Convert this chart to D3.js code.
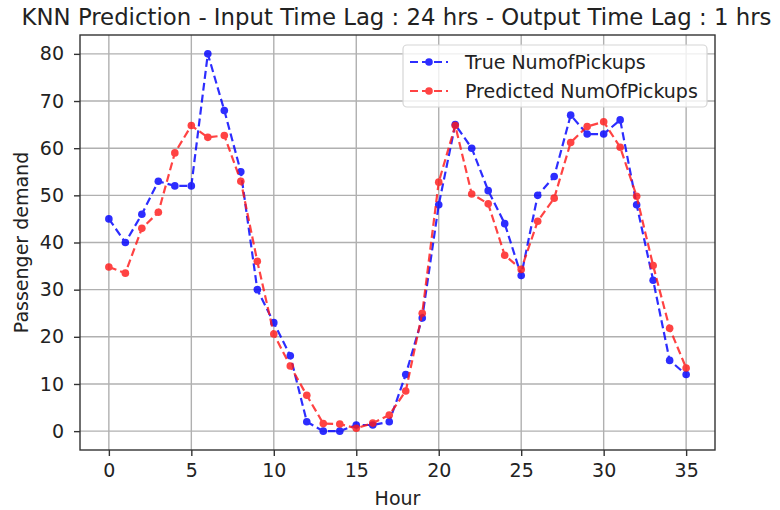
<!DOCTYPE html>
<html>
<head>
<meta charset="utf-8">
<script src="https://cdn.jsdelivr.net/npm/d3@7"></script>
<style>
  html, body { margin: 0; padding: 0; background: #fff; }
  svg { display: block; font-family: "DejaVu Sans", sans-serif; }
</style>
</head>
<body>
<svg id="chart" width="780" height="510"></svg>
<script>
// Hourly pickups: observed vs. KNN forecast
const hours = d3.range(0, 36);
const trueCounts = [45, 40, 46, 53, 52, 52, 80, 68, 55, 30, 23, 16, 2, 0, 0, 1.3, 1.3, 2, 12, 24,
                    48, 65, 60, 51, 44, 33, 50, 54, 67, 63, 63, 66, 48, 32, 15, 12];
const predictedCounts = [34.8, 33.5, 43, 46.4, 59, 64.8, 62.3, 62.7, 53, 36, 20.6, 13.8, 7.6, 1.6, 1.5, 0.6, 1.7, 3.4, 8.5, 25,
                         52.8, 64.8, 50.3, 48.2, 37.3, 34.3, 44.5, 49.4, 61.2, 64.6, 65.6, 60.2, 49.8, 35.1, 21.8, 13.4];
const xTicks = [0, 5, 10, 15, 20, 25, 30, 35];
const yTicks = [0, 10, 20, 30, 40, 50, 60, 70, 80];
const seriesNames = ["True NumofPickups", "Predicted NumOfPickups"];
const titleText = "KNN Prediction - Input Time Lag : 24 hrs - Output Time Lag : 1 hrs";

const svg = d3.select("#chart");
const plot = { left: 80, right: 715, top: 35, bottom: 450 };
const labelSize = "19px";

const x = d3.scaleLinear().domain([-1.75, 36.75]).range([plot.left, plot.right]);
const y = d3.scaleLinear().domain([-4, 84]).range([plot.bottom, plot.top]);

// grid
const grid = svg.append("g").attr("stroke", "#b0b0b0").attr("stroke-width", 1.4);
grid.selectAll("line.gx").data(xTicks).join("line")
  .attr("x1", d => x(d)).attr("x2", d => x(d))
  .attr("y1", plot.top).attr("y2", plot.bottom);
grid.selectAll("line.gy").data(yTicks).join("line")
  .attr("x1", plot.left).attr("x2", plot.right)
  .attr("y1", d => y(d)).attr("y2", d => y(d));

// axes
const xAxis = svg.append("g").attr("transform", `translate(0,${plot.bottom})`)
  .call(d3.axisBottom(x).tickValues(xTicks).tickSize(6).tickPadding(8).tickFormat(d3.format("d")));
const yAxis = svg.append("g").attr("transform", `translate(${plot.left},0)`)
  .call(d3.axisLeft(y).tickValues(yTicks).tickSize(6).tickPadding(10).tickFormat(d3.format("d")));
[xAxis, yAxis].forEach(a => {
  a.select(".domain").remove();
  a.selectAll(".tick line").attr("stroke", "#333").attr("stroke-width", 1.4);
  a.selectAll(".tick text").attr("fill", "#222").style("font-size", labelSize)
    .style("font-family", "DejaVu Sans, sans-serif");
});

// frame
svg.append("rect")
  .attr("x", plot.left).attr("y", plot.top)
  .attr("width", plot.right - plot.left).attr("height", plot.bottom - plot.top)
  .attr("fill", "none").attr("stroke", "#333").attr("stroke-width", 1.4);

// series
const series = [
  { name: seriesNames[0], values: trueCounts, color: "#0000ff" },
  { name: seriesNames[1], values: predictedCounts, color: "#ff1a1a" }
];
const line = d3.line().x(d => x(d[0])).y(d => y(d[1]));
series.forEach(s => {
  const pts = hours.map((h, i) => [h, s.values[i]]);
  const g = svg.append("g").attr("opacity", 0.82);
  g.append("path").datum(pts).attr("d", line)
    .attr("fill", "none").attr("stroke", s.color).attr("stroke-width", 2.2)
    .attr("stroke-dasharray", "8,4");
  g.selectAll("circle").data(pts).join("circle")
    .attr("cx", d => x(d[0])).attr("cy", d => y(d[1])).attr("r", 3.8)
    .attr("fill", s.color);
});

// legend
const lg = svg.append("g");
lg.append("rect").attr("x", 403).attr("y", 45).attr("width", 304).attr("height", 62).attr("rx", 4)
  .attr("fill", "#fff").attr("fill-opacity", 0.8).attr("stroke", "#d6d6d6").attr("stroke-width", 1.2);
series.forEach((s, i) => {
  const cy = 62 + i * 29;
  const e = lg.append("g").attr("opacity", 0.82);
  e.append("line").attr("x1", 410).attr("x2", 448).attr("y1", cy).attr("y2", cy)
    .attr("stroke", s.color).attr("stroke-width", 2.2).attr("stroke-dasharray", "8,4");
  e.append("circle").attr("cx", 429).attr("cy", cy).attr("r", 3.8).attr("fill", s.color);
  lg.append("text").attr("x", 465).attr("y", cy + 7).attr("fill", "#222")
    .style("font-size", labelSize).text(s.name);
});

// titles
svg.append("text").attr("x", (plot.left + plot.right) / 2 - 1).attr("y", 25)
  .attr("text-anchor", "middle").attr("fill", "#222").style("font-size", "22.8px").text(titleText);
svg.append("text").attr("x", (plot.left + plot.right) / 2).attr("y", 505)
  .attr("text-anchor", "middle").attr("fill", "#222").style("font-size", labelSize).text("Hour");
svg.append("text").attr("transform", `translate(28,${(plot.top + plot.bottom) / 2}) rotate(-90)`)
  .attr("text-anchor", "middle").attr("fill", "#222").style("font-size", labelSize).text("Passenger demand");
</script>
</body>
</html>
